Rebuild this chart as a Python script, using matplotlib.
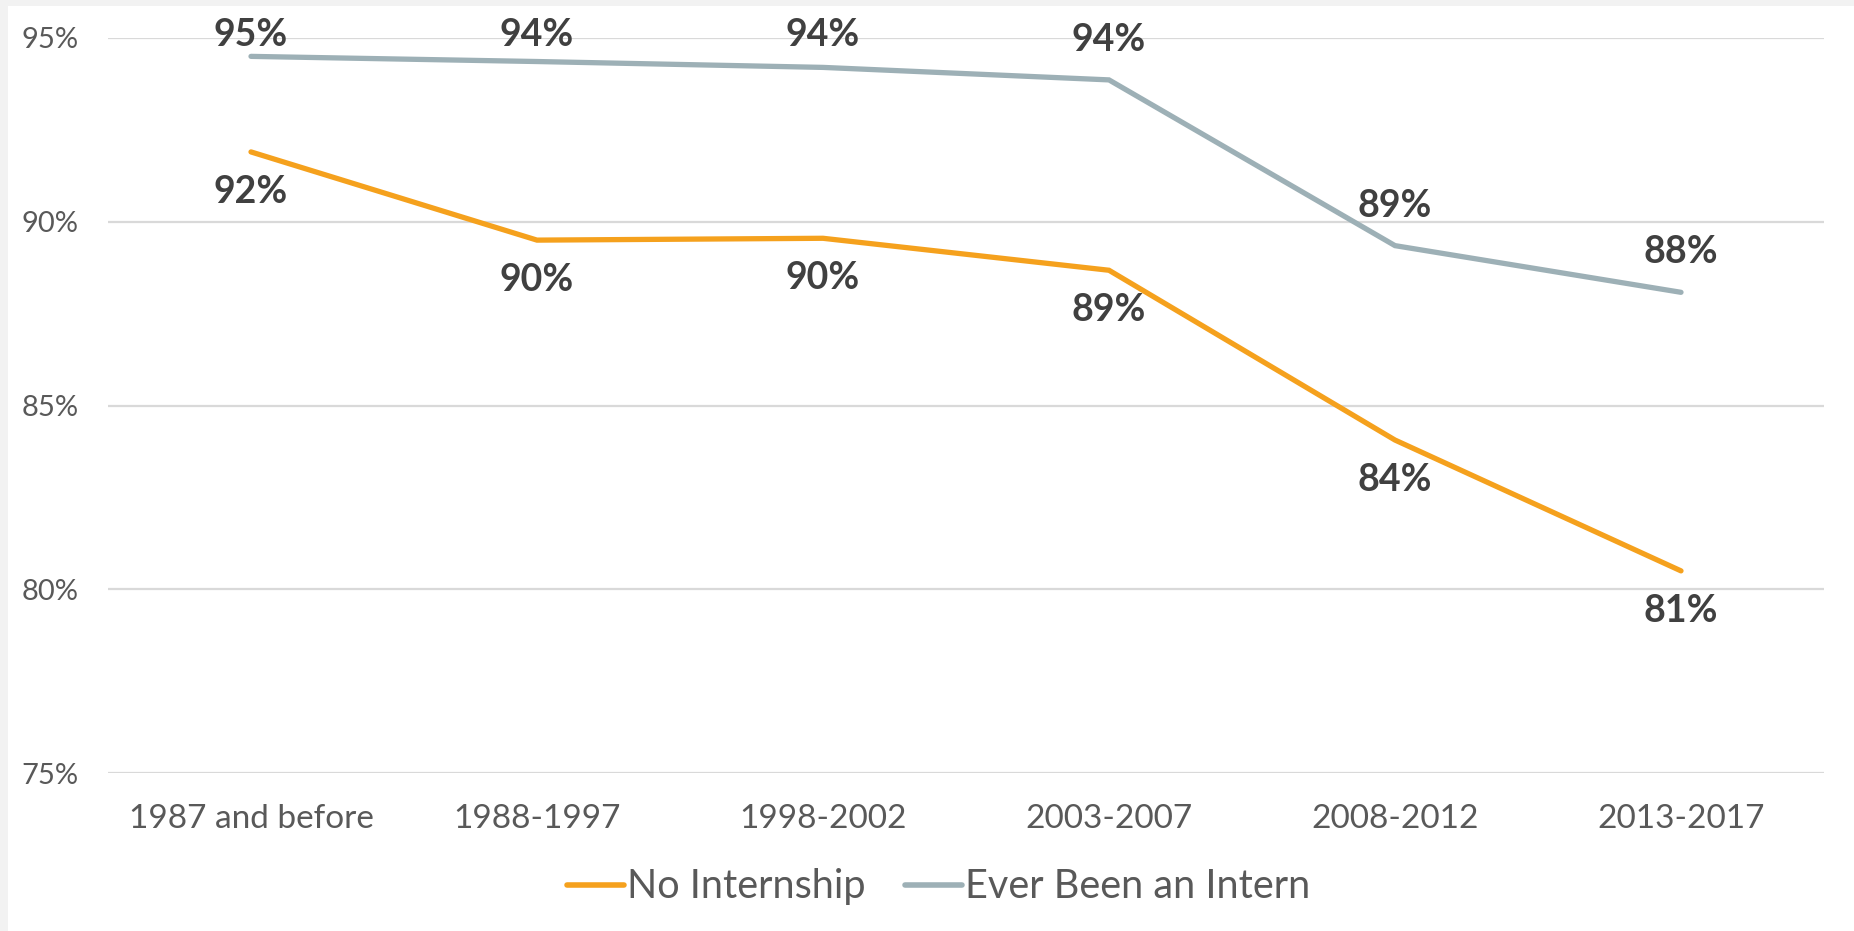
import numpy as np
import matplotlib
matplotlib.use("Agg")
import matplotlib.pyplot as plt
from matplotlib.patches import Rectangle

plt.rcParams["font.family"] = ["Lato", "DejaVu Sans"]

# Graduation cohorts and employment rates (%)
cohorts = ["1987 and before", "1988-1997", "1998-2002", "2003-2007", "2008-2012", "2013-2017"]
no_internship = [91.9, 89.5, 89.55, 88.68, 84.06, 80.5]
ever_intern = [94.5, 94.36, 94.2, 93.86, 89.35, 88.08]
y_ticks = [75, 80, 85, 90, 95]

ORANGE = "#F5A11D"
BLUE_GREY = "#9DB0B6"
GRID = "#D9D9D9"
TICK_TXT = "#595959"
LABEL_TXT = "#404040"

W, H = 1854, 931
fig = plt.figure(figsize=(W / 100, H / 100), dpi=100)
fig.patch.set_facecolor("#F2F2F2")
fig.add_artist(Rectangle((8 / W, 0), 1, (H - 6) / H, transform=fig.transFigure,
                         facecolor="white", edgecolor="none", zorder=0))

ax = fig.add_axes([108 / W, (H - 773) / H, (1824 - 108) / W, (773 - 38) / H])
ax.set_facecolor("none")

x = np.arange(len(cohorts))
ax.plot(x, no_internship, color=ORANGE, lw=3.8, solid_capstyle="round",
        solid_joinstyle="miter", label="No Internship", zorder=3)
ax.plot(x, ever_intern, color=BLUE_GREY, lw=3.8, solid_capstyle="round",
        solid_joinstyle="miter", label="Ever Been an Intern", zorder=3)

ax.set_xlim(-0.5, len(cohorts) - 0.5)
ax.set_ylim(75, 95)
ax.set_yticks(y_ticks)
ax.set_yticklabels([f"{t}%" for t in y_ticks])
ax.set_xticks(x)
ax.set_xticklabels(cohorts)
ax.grid(axis="y", color=GRID, lw=1.6)
ax.set_axisbelow(True)
for s in ax.spines.values():
    s.set_visible(False)
ax.tick_params(axis="y", length=0, pad=21, labelsize=21, labelcolor=TICK_TXT)
ax.tick_params(axis="x", length=0, pad=22, labelsize=24, labelcolor=TICK_TXT)


def pct(v):
    return f"{int(np.floor(v + 0.5))}%"


# data labels: blue-grey above, orange below, kept inside the top of the plot
off = 1.09
top_limit = 95.08
for xi, v in zip(x, ever_intern):
    ax.text(xi, min(v + off, top_limit), pct(v), ha="center", va="center",
            fontsize=27, fontweight="bold", color=LABEL_TXT, clip_on=False, zorder=4)
for xi, v in zip(x, no_internship):
    ax.text(xi, v - off, pct(v), ha="center", va="center",
            fontsize=27, fontweight="bold", color=LABEL_TXT, clip_on=False, zorder=4)

leg = ax.legend(loc="center", bbox_to_anchor=(0.484, -0.155), ncol=2, frameon=False,
                fontsize=28.5, handlelength=1.45, handletextpad=0.06, columnspacing=1.0,
                labelcolor=TICK_TXT)
for h in leg.get_lines():
    h.set_linewidth(4)

fig.savefig("out.png", dpi=100, facecolor=fig.get_facecolor())
